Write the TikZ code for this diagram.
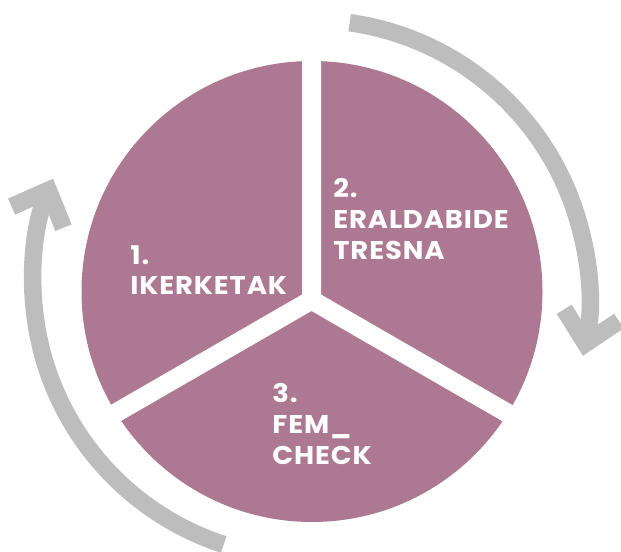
\documentclass[tikz,border=0pt]{standalone}
\usepackage{fontspec}
\setmainfont{Poppins}
\usetikzlibrary{arrows.meta}
\definecolor{mauve}{HTML}{AD7892}
\definecolor{cyclegrey}{HTML}{BDBDBD}
\tikzset{
  cycle arrow/.style={cyclegrey, line width=0.35cm, -{Straight Barb[length=0.58cm, width=1.12cm]}},
  gap line/.style={white, line width=0.38cm},
  step label/.style={white, font=\fontsize{14.6}{17.6}\selectfont\bfseries\addfontfeatures{FakeStretch=1.07,LetterSpace=3.5}, align=left, anchor=north west, inner sep=0pt}
}

\begin{document}
\begin{tikzpicture}[x=0.02cm, y=0.02cm]
  \useasboundingbox (0,0) rectangle (621,551);
  \coordinate (cc) at (312,259.5);
  \coordinate (yc) at (311.5,251);
  \coordinate (rc) at (311,253);
  \coordinate (lc) at (309,269);
  % disc cut in three
  \fill[mauve] (cc) circle (230.5);
  \draw[gap line] (yc) -- ++(90:245) (yc) -- ++(210:240) (yc) -- ++(330:240);
  % the two turning arrows
  \draw[cycle arrow] (rc) ++(82:278) arc[start angle=82, end angle=-12, radius=278];
  \draw[cycle arrow] (lc) ++(252:276) arc[start angle=252, end angle=158, radius=276];
  % steps
  \node[step label] (ikerketak) at (130,306) {1.\\IKERKETAK};
  \node[step label] (eraldabide) at (333,373) {2.\\ERALDABIDE\\TRESNA};
  \node[step label] (femcheck) at (272,168) {3.\\FEM\_\\CHECK};
\end{tikzpicture}
\end{document}
